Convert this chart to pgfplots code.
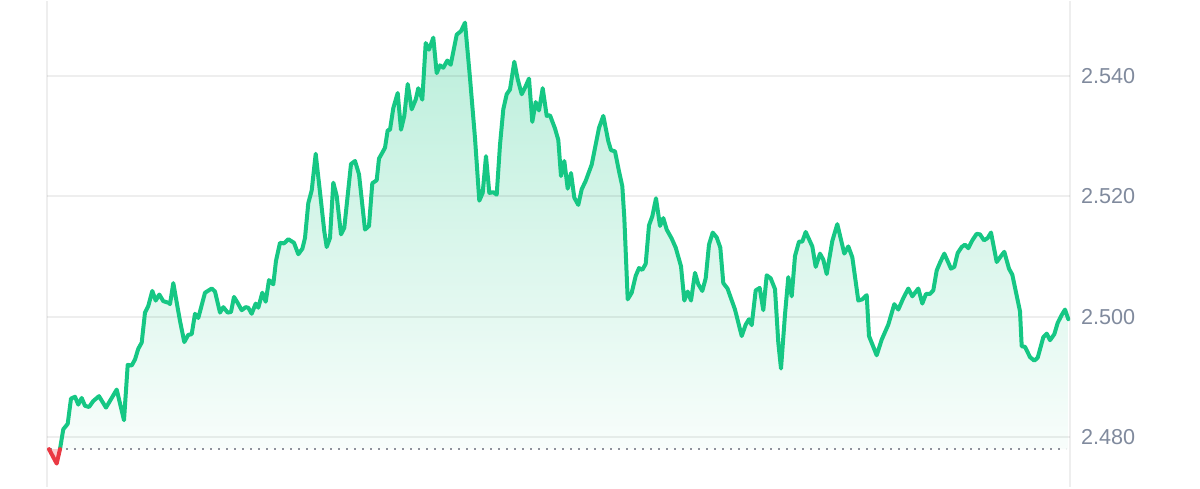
\documentclass[border=0pt]{standalone}
\usepackage{pgfplots}
\usepackage{pgfplotstable}
\pgfplotsset{compat=1.18}
\usepackage{fontspec}
\setmainfont{Liberation Sans}
\definecolor{cmcgreen}{HTML}{16C784}
\definecolor{cmcred}{HTML}{EA3943}
\definecolor{labelgrey}{HTML}{808A9D}
\definecolor{dotgrey}{HTML}{8E929C}

\pgfplotstableread{
x y
13 2.4780
16.3 2.4813
20.7 2.4822
24 2.4864
28 2.4867
31.3 2.4854
34.7 2.4865
38 2.4852
42 2.4850
46.3 2.4860
52 2.4868
59 2.4849
69.7 2.4879
77 2.4828
80.7 2.4920
84.7 2.4919
88 2.4929
91.3 2.4947
94.7 2.4957
98 2.5007
101.3 2.5018
105.3 2.5043
108.7 2.5027
112.3 2.5037
116.3 2.5026
122 2.5023
123 2.5021
126.3 2.5056
133 2.4993
137.3 2.4958
141.3 2.4970
144.7 2.4971
148 2.5005
151.3 2.4998
158 2.5040
164.7 2.5047
168 2.5042
173 2.5007
176.3 2.5016
180.7 2.5007
184 2.5008
187 2.5033
190.7 2.5023
194.7 2.5011
198.7 2.5016
201.3 2.5015
204.7 2.5005
208.7 2.5022
211.3 2.5015
215.3 2.5040
218.7 2.5025
222 2.5061
226.3 2.5054
229 2.5093
233 2.5123
237 2.5122
241.3 2.5129
247 2.5123
251.3 2.5104
255.3 2.5113
258 2.5131
261.3 2.5189
264.7 2.5210
268.7 2.5271
274 2.5192
277.3 2.5142
279.7 2.5116
283 2.5131
286.3 2.5223
289.7 2.5201
294 2.5137
297.3 2.5148
304 2.5254
308 2.5259
312 2.5237
318 2.5145
322 2.5151
325.3 2.5222
329.7 2.5227
332 2.5263
334.7 2.5271
338 2.5281
340.7 2.5310
343 2.5311
346.3 2.5347
350.7 2.5372
354 2.5311
357.3 2.5334
360.7 2.5387
364.7 2.5345
368.7 2.5361
371.3 2.5380
375.3 2.5361
378.7 2.5455
382 2.5444
386.3 2.5464
389.7 2.5405
393 2.5418
396.3 2.5414
400.3 2.5426
403.7 2.5419
409.7 2.5469
414 2.5475
418 2.5489
423 2.5397
428 2.5297
432.3 2.5193
435.7 2.5206
439 2.5267
442.3 2.5206
446.3 2.5207
449.7 2.5203
453 2.5286
456.3 2.5345
459.7 2.5370
463 2.5378
467.3 2.5424
470.7 2.5395
474.7 2.5370
478 2.5381
482 2.5396
485.3 2.5324
488.7 2.5357
492 2.5343
495.7 2.5380
499.7 2.5334
503 2.5335
508 2.5313
511.3 2.5294
514 2.5234
517.3 2.5259
520.7 2.5213
524 2.5239
527.3 2.5198
531.3 2.5186
534.7 2.5212
538.7 2.5226
544.7 2.5253
552 2.5314
556.3 2.5334
561.3 2.5292
564 2.5277
568 2.5275
572 2.5242
575.3 2.5217
577.3 2.5165
580.7 2.5029
584.7 2.5040
588.7 2.5068
592 2.5081
595.3 2.5078
598.7 2.5088
602 2.5152
605.3 2.5167
609 2.5197
613 2.5151
616.3 2.5164
619.7 2.5145
624.7 2.5130
628.7 2.5115
634 2.5084
637.3 2.5027
640.7 2.5042
644 2.5027
648 2.5073
651.3 2.5054
655.3 2.5043
658.7 2.5064
662 2.5120
665.7 2.5140
669.7 2.5132
673.3 2.5115
676.3 2.5056
680.5 2.5047
688 2.5012
694.7 2.4968
698.7 2.4987
702 2.4996
704.7 2.4986
708.7 2.5044
712.7 2.5048
716.3 2.5011
719.7 2.5069
723.7 2.5064
728 2.5046
731.3 2.4957
734 2.4914
738 2.5004
741.3 2.5066
744.7 2.5034
748 2.5101
752 2.5125
755.3 2.5125
758.7 2.5141
765.3 2.5117
768.7 2.5083
773 2.5105
776.3 2.5095
779.7 2.5071
785.3 2.5126
790.3 2.5154
797.3 2.5105
801.3 2.5117
805.3 2.5099
811.3 2.5027
815.3 2.5029
819.7 2.5036
822 2.4968
829.7 2.4936
834.7 2.4962
841.3 2.4987
847.3 2.5021
851.3 2.5012
856.3 2.5031
861.3 2.5047
865.3 2.5034
871.3 2.5047
875.3 2.5022
879 2.5038
883 2.5038
886.3 2.5044
889.7 2.5077
893 2.5090
897.3 2.5105
904 2.5080
907.3 2.5083
910.7 2.5106
914.7 2.5116
918 2.5120
921.3 2.5114
925.3 2.5127
929.7 2.5138
933 2.5137
937 2.5127
940.7 2.5131
944 2.5140
949.7 2.5091
954 2.5101
957.3 2.5108
962 2.5080
965.3 2.5070
968.7 2.5043
973 2.5009
974.7 2.4951
978 2.4950
983 2.4933
987.3 2.4927
990.7 2.4932
996.3 2.4966
999.7 2.4972
1003 2.4961
1007.3 2.4971
1010.7 2.4990
1014.7 2.5003
1018 2.5012
1021.3 2.4996
}\greendata

\pgfplotstableread{
x y
2 2.4780
9.7 2.4756
13 2.4780
}\reddata

\begin{document}
\begin{tikzpicture}
\begin{axis}[
  set layers,
  scale only axis,
  width=511.5pt, height=243pt,
  xmin=0, xmax=1023,
  ymin=2.4717, ymax=2.5525,
  separate axis lines,
  x axis line style={draw=none},
  y axis line style={black, opacity=0.065, line width=1pt},
  xtick=\empty,
  ytick={2.48,2.50,2.52,2.54},
  yticklabels={2.480,2.500,2.520,2.540},
  yticklabel pos=right,
  major tick length=0pt,
  ymajorgrids,
  grid style={black, opacity=0.065, line width=1pt},
  yticklabel style={font=\fontsize{10.8}{12}\selectfont, text=labelgrey, anchor=west, inner sep=0pt, xshift=5.4pt},
  clip=true,
]
\addplot[on layer=axis background, draw=none, top color=cmcgreen!30!white, bottom color=cmcgreen!3!white] table {\greendata} -- (axis cs:1021.3,2.4780) -- cycle;
\addplot[on layer=axis background, draw=none, fill=cmcred, fill opacity=0.25] table {\reddata} -- cycle;
\addplot[dotgrey, line width=1.1pt, dash pattern=on 1.1pt off 2.9pt] coordinates {(3,2.4780) (1019,2.4780)};
\addplot[cmcgreen, line width=2pt, line join=round, line cap=round, mark=none] table {\greendata};
\addplot[cmcred, line width=2pt, line join=round, line cap=round, mark=none] table {\reddata};
\end{axis}
\path (-23.5pt,0pt) rectangle (576.5pt,243pt);
\end{tikzpicture}
\end{document}
